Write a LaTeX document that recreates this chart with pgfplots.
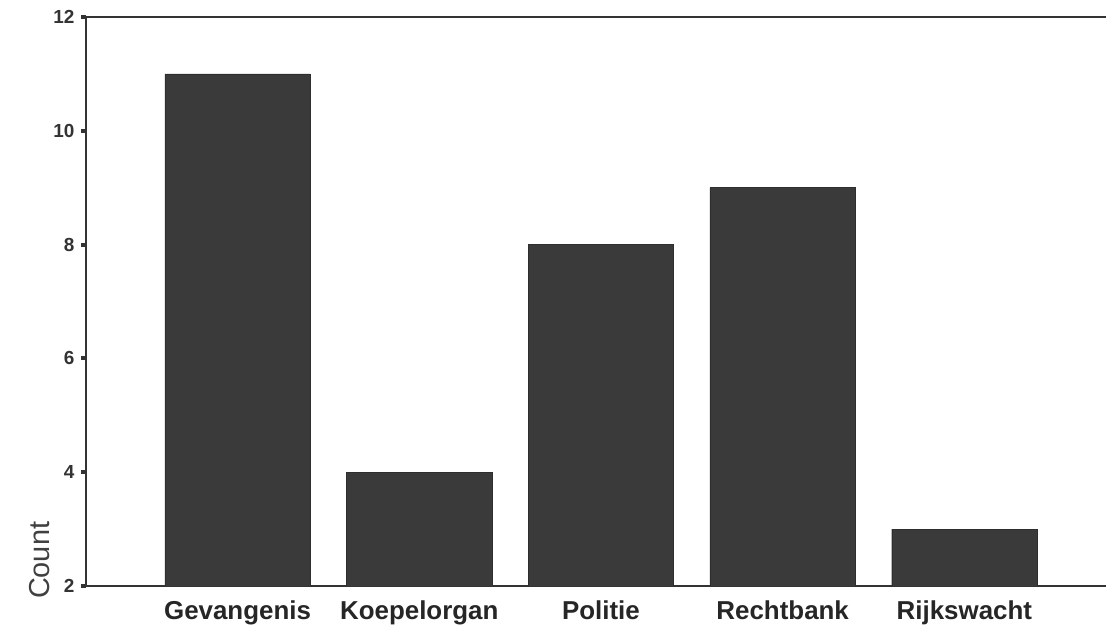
\documentclass[border=0pt]{standalone}
\usepackage{pgfplots}
\pgfplotsset{compat=1.18}
\usepackage{fontspec}
\setmainfont{Liberation Sans}
\definecolor{barc}{HTML}{3A3A3A}
\begin{document}
\begin{tikzpicture}[x=1bp,y=1bp]
\path[use as bounding box] (0,0) rectangle (1106,634);
\begin{axis}[
  at={(86bp,48bp)}, anchor=south west,
  scale only axis,
  width=1025bp, height=569bp,
  xmin=-0.834, xmax=4.807,
  ymin=2, ymax=12,
  ytick={2,4,6,8,10,12},
  xtick={0,1,2,3,4},
  xticklabels={Gevangenis,Koepelorgan,Politie,Rechtbank,Rijkswacht},
  /pgf/number format/assume math mode=true,
  xticklabel style={font=\fontsize{26}{30}\selectfont\bfseries, color=black!85, yshift=-6bp},
  yticklabel style={font=\fontsize{19}{22}\selectfont\bfseries, color=black!80, xshift=-3bp},
  x tick style={draw=none},
  y tick style={line width=4bp, black!80},
  tick align=outside,
  major tick length=5bp,
  axis line style={line width=1.6bp, black!80},
  ylabel={Count},
  ylabel style={font=\fontsize{29}{32}\selectfont, color=black!75, at={(axis description cs:-0.045,0.045)}, anchor=center},
  ybar, bar width=0.8,
]
\addplot[fill=barc, draw=barc!80!black] coordinates {(0,11) (1,4) (2,8) (3,9) (4,3)};
\end{axis}
\end{tikzpicture}
\end{document}
